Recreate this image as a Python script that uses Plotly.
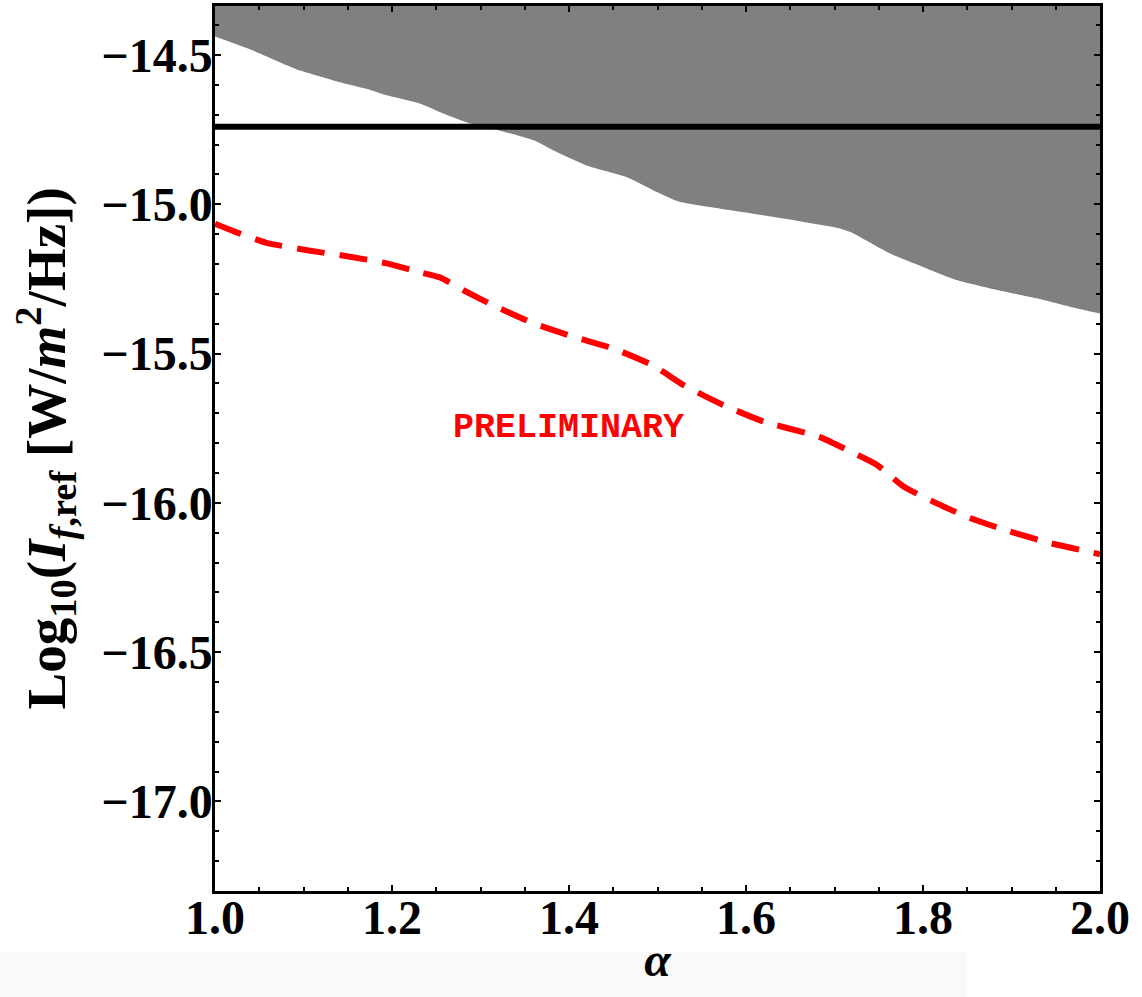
import plotly.graph_objects as go

# Spectral index values along the horizontal axis
alpha_excluded = [1.0, 1.043, 1.073, 1.096, 1.119, 1.141, 1.171, 1.194, 1.232, 1.254,
                  1.284, 1.314, 1.36, 1.382, 1.42, 1.465, 1.495, 1.525, 1.571, 1.605,
                  1.642, 1.706, 1.718, 1.763, 1.80, 1.838, 1.876, 1.928, 1.966, 2.0]
# Lower edge of the excluded (grey) region, log10 of reference intensity
log_excluded = [-14.438, -14.485, -14.524, -14.552, -14.572, -14.591, -14.613, -14.635, -14.663, -14.691,
                -14.725, -14.747, -14.786, -14.819, -14.870, -14.909, -14.953, -14.992, -15.015, -15.03,
                -15.048, -15.081, -15.093, -15.165, -15.21, -15.254, -15.282, -15.315, -15.343, -15.366]

# Projected sensitivity curve (dashed red)
alpha_sens = [1.0, 1.028, 1.058, 1.104, 1.149, 1.194, 1.232, 1.254, 1.284, 1.314,
              1.36, 1.405, 1.45, 1.495, 1.529, 1.574, 1.62, 1.669, 1.687, 1.718,
              1.748, 1.778, 1.815, 1.853, 1.898, 1.944, 2.0]
log_sens = [-15.065, -15.098, -15.129, -15.154, -15.174, -15.198, -15.228, -15.245, -15.293, -15.338,
            -15.399, -15.444, -15.483, -15.54, -15.605, -15.672, -15.728, -15.767, -15.784, -15.828,
            -15.873, -15.945, -16.001, -16.051, -16.096, -16.135, -16.172]

# Horizontal reference level (solid black)
log_limit = -14.74

x_range = [1.0, 2.0]
y_range = [-17.3, -14.336]
x_ticks = [1.0, 1.2, 1.4, 1.6, 1.8, 2.0]
x_ticklabels = ["1.0", "1.2", "1.4", "1.6", "1.8", "2.0"]
y_ticks = [-17.0, -16.5, -16.0, -15.5, -15.0, -14.5]
y_ticklabels = ["\u221217.0", "\u221216.5", "\u221216.0", "\u221215.5", "\u221215.0", "\u221214.5"]

SERIF = "Liberation Serif, Times New Roman, serif"

fig = go.Figure()

# Top boundary of the grey region, then fill down to the excluded edge
fig.add_trace(go.Scatter(
    x=alpha_excluded, y=[y_range[1]] * len(alpha_excluded),
    mode="lines", line=dict(width=0, color="#808080"),
    showlegend=False, hoverinfo="skip",
))
fig.add_trace(go.Scatter(
    x=alpha_excluded, y=log_excluded,
    mode="lines", line=dict(width=0, color="#808080", shape="spline", smoothing=0.6),
    fill="tonexty", fillcolor="#808080",
    showlegend=False,
))

# Horizontal limit line
fig.add_trace(go.Scatter(
    x=x_range, y=[log_limit, log_limit],
    mode="lines", line=dict(color="black", width=6),
    showlegend=False,
))

# Dashed sensitivity curve
fig.add_trace(go.Scatter(
    x=alpha_sens, y=log_sens,
    mode="lines",
    line=dict(color="#ff0000", width=6, dash="28px,15px", shape="spline", smoothing=0.5),
    showlegend=False,
))

fig.add_annotation(
    x=1.399, y=-15.748, xref="x", yref="y",
    text="PRELIMINARY", showarrow=False,
    font=dict(family="Liberation Mono, Courier New, monospace", size=35, color="#ff0000", weight="bold"),
)

# Vertical axis title, placed as a rotated annotation
fig.add_annotation(
    x=-0.191, y=0.5, xref="paper", yref="paper",
    xanchor="center", yanchor="middle", textangle=-90, showarrow=False,
    text="Log<sub>10</sub>(<i>I</i><sub><i>f</i>,ref</sub> [W/<i>m</i><sup>2</sup>/Hz])",
    font=dict(family=SERIF, size=55, color="black", weight="bold"),
)

# Faint grey band along the bottom of the page
fig.add_shape(type="rect", xref="paper", yref="paper",
              x0=-0.245, x1=0.85, y0=-0.12, y1=-0.069,
              fillcolor="#f9f9f9", line=dict(width=0), layer="below")

axis_common = dict(
    showline=True, linecolor="black", linewidth=2.5, mirror="ticks",
    ticks="inside", ticklen=6, tickwidth=2, tickcolor="black",
    showgrid=False, zeroline=False, automargin=False,
    tickfont=dict(family=SERIF, size=48, color="black", weight="bold"),
)

fig.update_xaxes(
    range=x_range, tickvals=x_ticks, ticktext=x_ticklabels,
    ticklabelstandoff=-17,
    minor=dict(dtick=0.05, ticks="inside", ticklen=4, tickwidth=2, tickcolor="black", showgrid=False),
    title=dict(text="<i>\u03b1</i>", font=dict(family=SERIF, size=48, color="black", weight="bold"), standoff=0),
    **axis_common,
)
fig.update_yaxes(
    range=y_range, tickvals=y_ticks, ticktext=y_ticklabels,
    ticklabelstandoff=-10,
    minor=dict(dtick=0.1, tick0=-17.0, ticks="inside", ticklen=4, tickwidth=2, tickcolor="black", showgrid=False),
    **axis_common,
)

fig.update_layout(
    width=1142, height=997,
    margin=dict(l=215, r=42, t=6, b=106),
    plot_bgcolor="white", paper_bgcolor="white",
)

fig.write_html("out.html")
